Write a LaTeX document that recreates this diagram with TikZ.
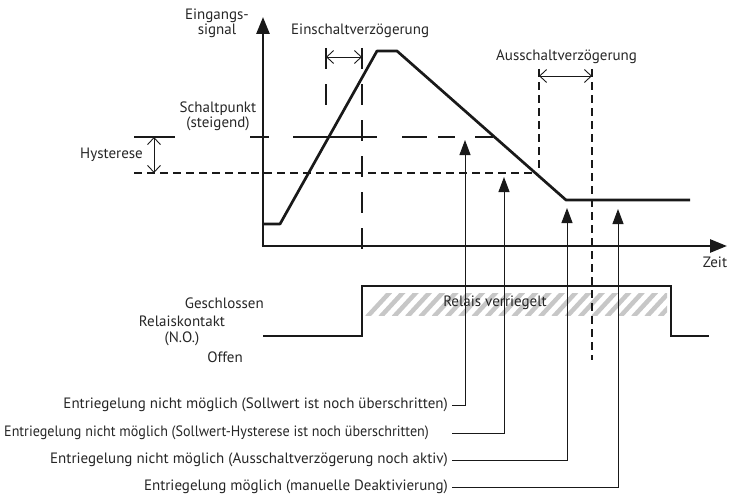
\documentclass[tikz,border=0pt]{standalone}
\usepackage{fontspec}
\setmainfont{PT Sans}
\newfontfamily\narrowsans{PT Sans}[FakeStretch=0.94]
\usetikzlibrary{arrows.meta}
\begin{document}
\begin{tikzpicture}[x=1pt,y=-1pt,
  txt/.style={inner sep=0pt, font=\fontsize{15}{17}\selectfont, text=black!85},
  bold/.style={line width=2.7pt, black!90},
  axisline/.style={line width=2.7pt, black!90, -{Triangle[length=17pt,width=13pt]}},
  longdash/.style={line width=2.7pt, black!90, dash pattern=on 21pt off 15pt},
  shortdash/.style={line width=2.7pt, black!90, dash pattern=on 8pt off 5pt},
  dim/.style={line width=0.9pt, black!90, {Straight Barb[length=7pt,width=13pt]}-{Straight Barb[length=7pt,width=13pt]}},
  pointer/.style={line width=1pt, black!90, -{Triangle[length=15pt,width=11pt]}},
  hatch/.style={line width=4.5pt, black!22},
]
\useasboundingbox (0,0) rectangle (736,495);

% hatch of locked relay
\begin{scope}
\clip (365,293) rectangle (667,315);
\foreach \k in {0,...,22} {
  \draw[hatch] ({367+13.3*\k},317) -- ({367+13.3*\k+24},291);
}
\end{scope}
\node[txt] (locked) at (495,303) {Relais verriegelt};

% axes
\coordinate (origin) at (263,246);
\coordinate (ytip) at (263,17);
\coordinate (xtip) at (727,246);
\draw[axisline] (origin) -- (ytip);
\draw[axisline] ([xshift=-1.35pt]origin) -- (xtip);
\node[txt] (ylab) at (217,24) {\begin{tabular}{@{}c@{}}Eingangs-\\[-2pt]signal\end{tabular}};
\node[txt] (xlab) at (715,262) {Zeit};

% levels
\draw[bold] (134,137) -- (175,137);
\draw[shortdash] (134,173) -- (537,173);
\draw[dim] (154,137) -- (154,173);
\node[txt, anchor=east] (hyst) at (143,155) {Hysterese};
\node[txt] (sp) at (218,117) {\begin{tabular}{@{}c@{}}Schaltpunkt\\[-2pt](steigend)\end{tabular}};
\draw[bold] (250,137) -- (269,137);
\draw[bold] (293,137) -- (377,137);
\draw[bold] (402,137) -- (427,137);
\draw[bold] (438,137) -- (455,137);
\draw[bold] (475,137) -- (493,137);

% switch-on delay
\draw[longdash] (326,48) -- (326,107);
\draw[longdash] (362,48) -- (362,250);
\draw[dim] (326,57) -- (362,57);
\node[txt, anchor=west] (on) at (291,31) {Einschaltverzögerung};

% switch-off delay
\draw[shortdash] (539,69) -- (539,173);
\draw[shortdash] (592,69) -- (592,360);
\draw[dim] (539,76) -- (592,76);
\node[txt, anchor=west] (off) at (496,57) {Ausschaltverzögerung};

% input signal
\draw[bold, line join=round] (263,224) -- (280,224) -- (377,51) -- (397,51) -- (566,200) -- (690,200);

% relay contact
\draw[bold] (263,336) -- (362,336) -- (362,286) -- (671,286) -- (671,336) -- (709,336);
\node[txt, anchor=east] (closed) at (264,303) {Geschlossen};
\node[txt] (rk) at (182,331) {\begin{tabular}{@{}c@{}}Relaiskontakt\\[-1pt](N.O.)\end{tabular}};
\node[txt, anchor=east] (open) at (243,357) {Offen};

% pointers
\coordinate (t1) at (465,140);
\coordinate (t2) at (504,177);
\coordinate (t3) at (567,208);
\coordinate (t4) at (618,209);
\node[txt, anchor=east] (l1) at (448,405) {Entriegelung nicht möglich (Sollwert ist noch überschritten)};
\node[txt, anchor=west, font=\fontsize{15}{17}\narrowsans] (l2) at (4,433) {Entriegelung nicht möglich (Sollwert-Hysterese ist noch überschritten)};
\node[txt, anchor=east] (l3) at (448,460) {Entriegelung nicht möglich (Ausschaltverzögerung noch aktiv)};
\node[txt, anchor=east] (l4) at (448,487) {Entriegelung möglich (manuelle Deaktivierung)};
\coordinate (s1) at ([xshift=4pt]l1.east);
\coordinate (s2) at (452,433);
\coordinate (s3) at ([xshift=4pt]l3.east);
\coordinate (s4) at ([xshift=4pt]l4.east);
\draw[pointer] (s1) -| (t1);
\draw[pointer] (s2) -| (t2);
\draw[pointer] (s3) -| (t3);
\draw[pointer] (s4) -| (t4);
\end{tikzpicture}
\end{document}
